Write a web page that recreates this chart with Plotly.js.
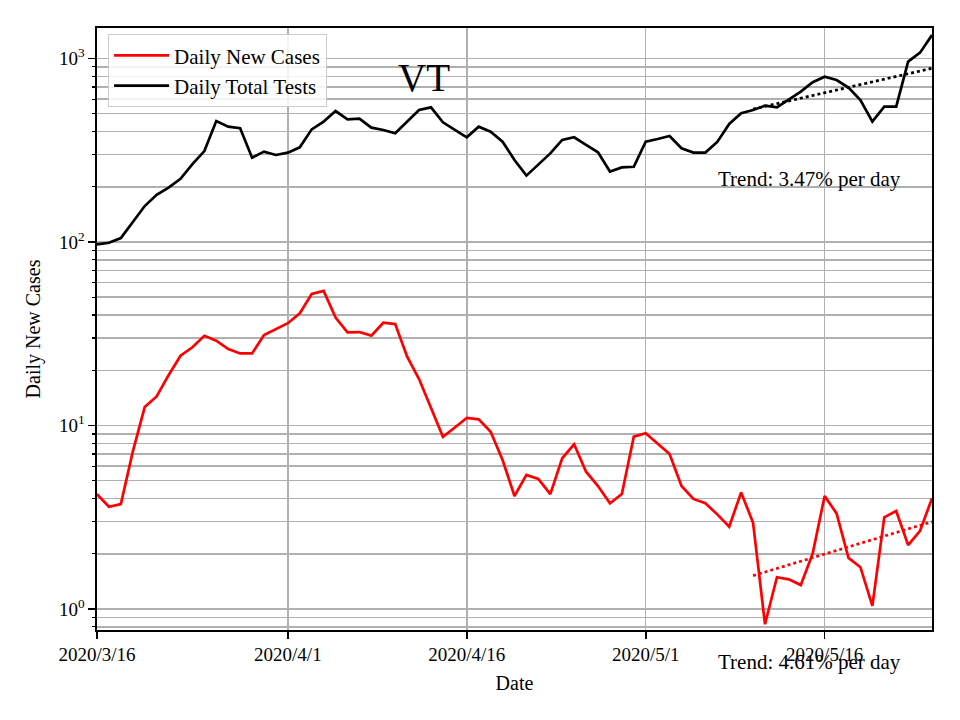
<!DOCTYPE html>
<html>
<head>
<meta charset="utf-8">
<script src="https://cdn.plot.ly/plotly-3.0.1.min.js"></script>
<style>html,body{margin:0;padding:0;background:#fff;}#chart{width:960px;height:720px;}</style>
</head>
<body>
<div id="chart"></div>
<script>
var startDate = '2020-03-16';
var dailyNewCases = [4.22, 3.61, 3.73, 7.2, 12.6, 14.4, 18.8, 24.0, 26.7, 30.8,
  29.0, 26.1, 24.7, 24.7, 31.1, 33.6, 36.1, 40.9, 52.1, 54.1,
  38.7, 32.2, 32.3, 30.9, 36.3, 35.7, 23.7, 17.9, 12.5, 8.68,
  9.75, 11.0, 10.8, 9.25, 6.49, 4.13, 5.38, 5.11, 4.23, 6.63,
  7.9, 5.6, 4.68, 3.77, 4.23, 8.69, 9.07, 7.96, 7.0, 4.68,
  3.98, 3.77, 3.28, 2.81, 4.32, 2.95, 0.826, 1.49, 1.45, 1.35,
  2.01, 4.13, 3.32, 1.90, 1.69, 1.04, 3.16, 3.42, 2.23, 2.67, 4.01];
var dailyTotalTests = [97, 99, 105, 128, 157, 181, 198, 221, 266, 313,
  456, 425, 417, 288, 311, 298, 307, 328, 411, 453,
  517, 466, 470, 420, 408, 391, 452, 524, 542, 449,
  408, 372, 425, 399, 352, 280, 230, 266, 304, 360,
  372, 338, 308, 242, 255, 257, 352, 364, 378, 324,
  307, 307, 351, 440, 503, 524, 553, 542, 600, 660,
  742, 796, 763, 694, 594, 453, 546, 546, 961, 1076, 1342];
var trendDates = ['2020-05-10', '2020-05-25'];
var casesTrend = [1.52, 2.99];
var testsTrend = [530, 884];
var casesTrendLabel = 'Trend: 4.61% per day';
var testsTrendLabel = 'Trend: 3.47% per day';
var xTickVals = ['2020-03-16', '2020-04-01', '2020-04-16', '2020-05-01', '2020-05-16'];
var xTickText = ['2020/3/16', '2020/4/1', '2020/4/16', '2020/5/1', '2020/5/16'];
var yTickVals = [1, 10, 100, 1000];
var yTickText = ['10<sup>0</sup>', '10<sup>1</sup>', '10<sup>2</sup>', '10<sup>3</sup>'];
var yMinorVals = [0.8, 0.9, 2, 3, 4, 5, 6, 7, 8, 9, 20, 30, 40, 50, 60, 70, 80, 90,
  200, 300, 400, 500, 600, 700, 800, 900];

function dateSeq(start, n) {
  var out = [];
  var d0 = new Date(start + 'T00:00:00Z');
  for (var i = 0; i < n; i++) {
    var d = new Date(d0.getTime() + i * 86400000);
    out.push(d.toISOString().slice(0, 10));
  }
  return out;
}
var dates = dateSeq(startDate, dailyNewCases.length);

var FONT = 'Liberation Serif, Times New Roman, serif';
var GRID = '#b0b0b0';

var traces = [
  {x: dates, y: dailyNewCases, type: 'scatter', mode: 'lines', name: 'Daily New Cases',
   line: {color: '#ff0000', width: 2.7}},
  {x: dates, y: dailyTotalTests, type: 'scatter', mode: 'lines', name: 'Daily Total Tests',
   line: {color: '#000000', width: 2.7}},
  {x: trendDates, y: casesTrend, type: 'scatter', mode: 'lines', showlegend: false,
   line: {color: '#ff0000', width: 2.7, dash: 'dot'}},
  {x: trendDates, y: testsTrend, type: 'scatter', mode: 'lines', showlegend: false,
   line: {color: '#000000', width: 2.7, dash: 'dot'}}
];

var layout = {
  width: 960, height: 720,
  margin: {l: 97, r: 28, t: 28, b: 90},
  paper_bgcolor: '#fff', plot_bgcolor: '#fff',
  font: {family: FONT, color: '#000', size: 19},
  showlegend: true,
  legend: {x: 0.013, y: 0.99, xanchor: 'left', yanchor: 'top',
    bgcolor: 'rgba(255,255,255,0.85)', bordercolor: '#cccccc', borderwidth: 1.2,
    itemwidth: 55,
    font: {family: FONT, size: 21, color: '#000'}, tracegroupgap: 0},
  xaxis: {
    type: 'date', range: ['2020-03-16', '2020-05-25'],
    tickmode: 'array', tickvals: xTickVals, ticktext: xTickText,
    ticks: 'outside', ticklen: 7, tickwidth: 1.6, tickcolor: '#000',
    showgrid: true, gridcolor: GRID, gridwidth: 1.5,
    showline: true, linecolor: '#000', linewidth: 1.6, mirror: true,
    zeroline: false,
    tickfont: {family: FONT, size: 19},
    title: {text: 'Date', font: {family: FONT, size: 20}, standoff: 11}
  },
  yaxis: {
    type: 'log', range: [-0.1144, 3.1662],
    tickmode: 'array', tickvals: yTickVals, ticktext: yTickText,
    ticks: 'outside', ticklen: 7, tickwidth: 1.6, tickcolor: '#000',
    showgrid: true, gridcolor: GRID, gridwidth: 1.5,
    minor: {tickmode: 'array', tickvals: yMinorVals, ticks: 'outside', ticklen: 3.5,
      tickwidth: 1.2, tickcolor: '#000', showgrid: true, gridcolor: GRID, gridwidth: 1.5},
    showline: true, linecolor: '#000', linewidth: 1.6, mirror: true,
    zeroline: false,
    tickfont: {family: FONT, size: 19},
    title: {text: 'Daily New Cases', font: {family: FONT, size: 20}, standoff: 13}
  },
  annotations: [
    {text: 'VT', xref: 'paper', yref: 'paper', x: 0.392, y: 0.917,
     xanchor: 'center', yanchor: 'middle', showarrow: false,
     font: {family: FONT, size: 39, color: '#000'}},
    {text: testsTrendLabel, xref: 'paper', yref: 'paper', x: 0.853, y: 0.749,
     xanchor: 'center', yanchor: 'middle', showarrow: false,
     font: {family: FONT, size: 21, color: '#000'}},
    {text: casesTrendLabel, xref: 'paper', yref: 'paper', x: 0.853, y: -0.053,
     xanchor: 'center', yanchor: 'middle', showarrow: false,
     font: {family: FONT, size: 21, color: '#000'}}
  ]
};

Plotly.newPlot('chart', traces, layout, {displayModeBar: false, staticPlot: true});
</script>
</body>
</html>
